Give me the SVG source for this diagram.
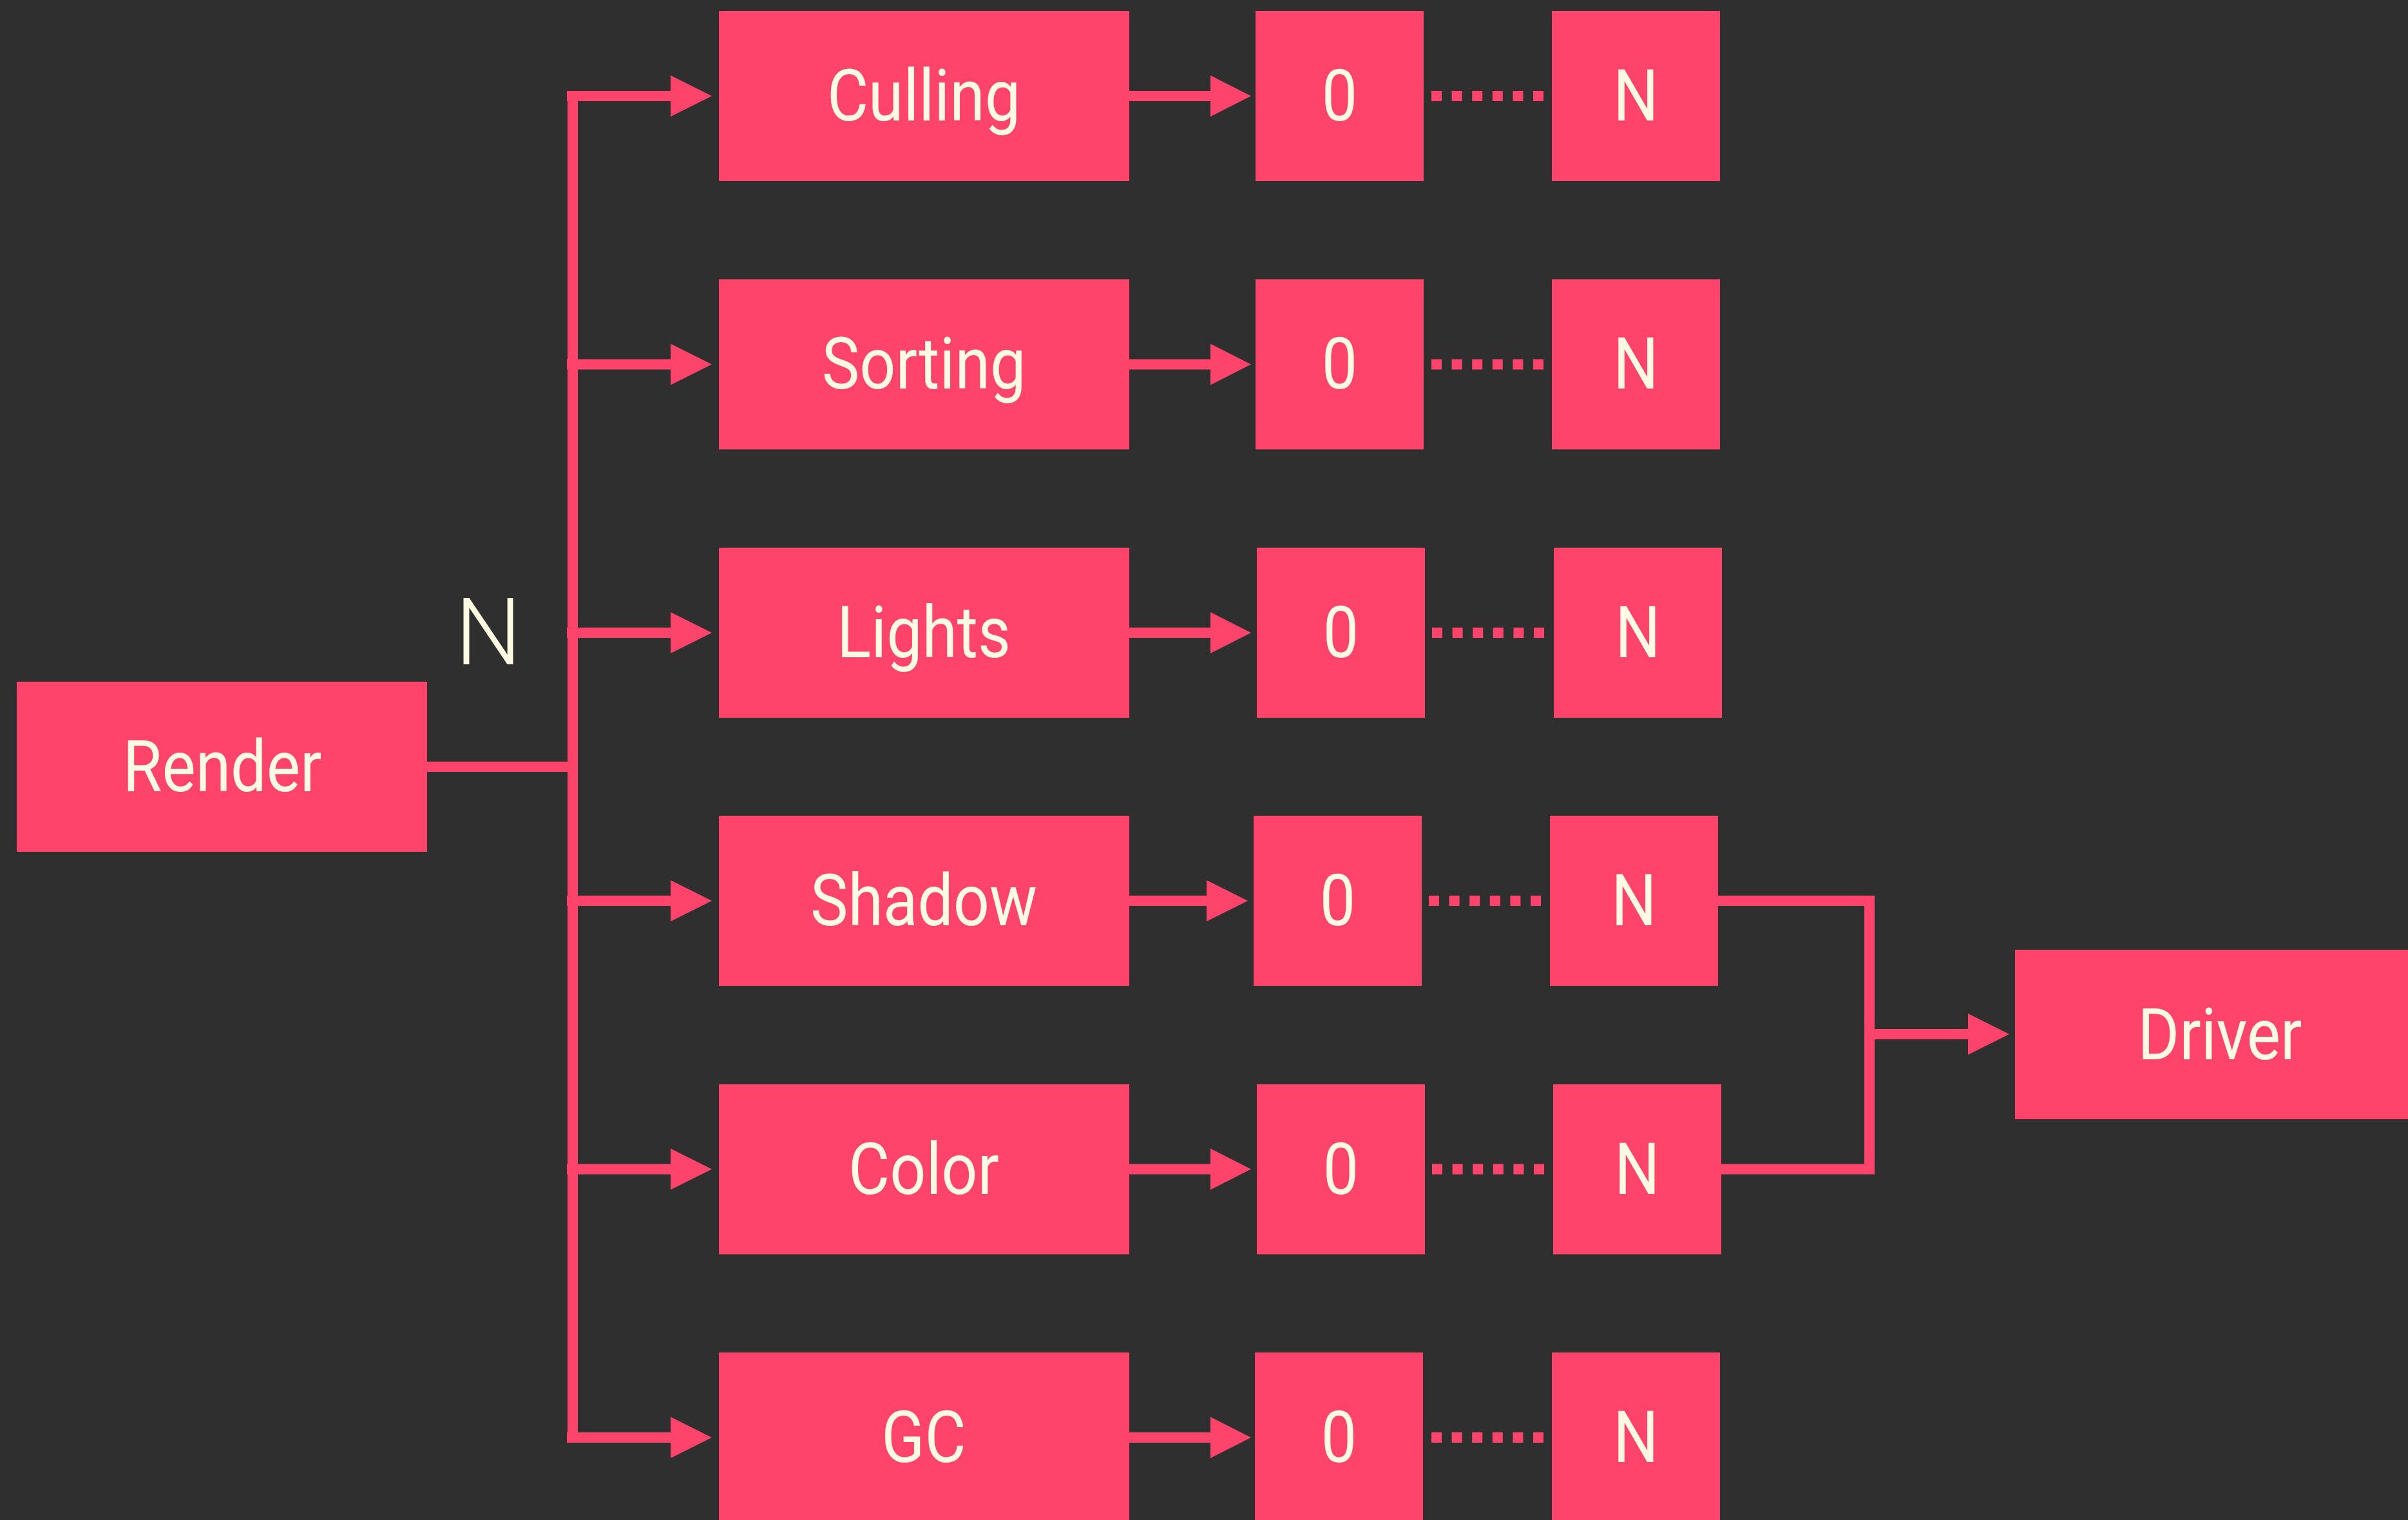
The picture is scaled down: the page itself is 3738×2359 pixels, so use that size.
<svg xmlns="http://www.w3.org/2000/svg" width="3738" height="2359" viewBox="0 0 3738 2359">
  <defs>
    <style>
      .box { fill: #FF446B; }
      .lbl { fill: #FFFAE1; font-family: Roboto, "Liberation Sans", sans-serif; font-size: 112px; font-weight: 400; text-anchor: middle; }
      .thin { fill: #FFFAE1; font-family: Roboto, "Liberation Sans", sans-serif; font-size: 145px; font-weight: 300; text-anchor: middle; }
      .ln { stroke: #FF446B; stroke-width: 16; fill: none; }
      .dot { stroke: #FF446B; stroke-width: 16; fill: none; stroke-dasharray: 16 15.6; }
      .head { fill: #FF446B; }
    </style>
  </defs>
  <rect width="3738" height="2359" fill="#2F2F2F"/>

  <g id="connectors">
    <line class="ln" x1="663" y1="1190" x2="889" y2="1190"/>
    <line class="ln" x1="889" y1="141" x2="889" y2="2239"/>
    <!-- branches -->
    <line class="ln" x1="880" y1="149" x2="1045" y2="149"/>
    <polygon class="head" points="1041,117 1105,149 1041,181"/>
    <line class="ln" x1="880" y1="565.4" x2="1045" y2="565.4"/>
    <polygon class="head" points="1041,533.4 1105,565.4 1041,597.4"/>
    <line class="ln" x1="880" y1="982" x2="1045" y2="982"/>
    <polygon class="head" points="1041,950 1105,982 1041,1014"/>
    <line class="ln" x1="880" y1="1398" x2="1045" y2="1398"/>
    <polygon class="head" points="1041,1366 1105,1398 1041,1430"/>
    <line class="ln" x1="880" y1="1814.6" x2="1045" y2="1814.6"/>
    <polygon class="head" points="1041,1782.6 1105,1814.6 1041,1846.6"/>
    <line class="ln" x1="880" y1="2231" x2="1045" y2="2231"/>
    <polygon class="head" points="1041,2199 1105,2231 1041,2263"/>
    <!-- middle arrows -->
    <line class="ln" x1="1752" y1="149" x2="1883" y2="149"/>
    <polygon class="head" points="1879,117 1942,149 1879,181"/>
    <line class="ln" x1="1752" y1="565.4" x2="1883" y2="565.4"/>
    <polygon class="head" points="1879,533.4 1942,565.4 1879,597.4"/>
    <line class="ln" x1="1752" y1="982" x2="1883" y2="982"/>
    <polygon class="head" points="1879,950 1942,982 1879,1014"/>
    <line class="ln" x1="1752" y1="1398" x2="1877" y2="1398"/>
    <polygon class="head" points="1873,1366 1937,1398 1873,1430"/>
    <line class="ln" x1="1752" y1="1814.6" x2="1883" y2="1814.6"/>
    <polygon class="head" points="1879,1782.6 1942,1814.6 1879,1846.6"/>
    <line class="ln" x1="1752" y1="2231" x2="1883" y2="2231"/>
    <polygon class="head" points="1879,2199 1942,2231 1879,2263"/>
    <!-- dotted -->
    <line class="dot" x1="2222" y1="149" x2="2396" y2="149"/>
    <line class="dot" x1="2222" y1="565.4" x2="2396" y2="565.4"/>
    <line class="dot" x1="2223" y1="982" x2="2399" y2="982"/>
    <line class="dot" x1="2218" y1="1398" x2="2394" y2="1398"/>
    <line class="dot" x1="2223" y1="1814.6" x2="2399" y2="1814.6"/>
    <line class="dot" x1="2222" y1="2231" x2="2396" y2="2231"/>
    <!-- merge to driver -->
    <polyline class="ln" points="2667,1398 2902,1398 2902,1814.6 2672,1814.6"/>
    <line class="ln" x1="2902" y1="1605" x2="3059" y2="1605"/>
    <polygon class="head" points="3055,1573 3119,1605 3055,1637"/>
  </g>

  <text class="thin" x="758" y="1031">N</text>

  <g id="render">
    <rect class="box" x="26" y="1058" width="637" height="264"/>
    <text class="lbl" transform="translate(345,1228) scale(0.88,1)">Render</text>
  </g>

  <g id="culling">
    <rect class="box" x="1116" y="17" width="637" height="264"/>
    <text class="lbl" transform="translate(1434,187) scale(0.88,1)">Culling</text>
  </g>
  <g id="culling-0"><rect class="box" x="1949" y="17" width="261" height="264"/><text class="lbl" transform="translate(2079.5,187) scale(0.88,1)">0</text></g>
  <g id="culling-n"><rect class="box" x="2409" y="17" width="261" height="264"/><text class="lbl" transform="translate(2539.5,187) scale(0.88,1)">N</text></g>

  <g id="sorting">
    <rect class="box" x="1116" y="433.4" width="637" height="264"/>
    <text class="lbl" transform="translate(1434,603.4) scale(0.88,1)">Sorting</text>
  </g>
  <g id="sorting-0"><rect class="box" x="1949" y="433.4" width="261" height="264"/><text class="lbl" transform="translate(2079.5,603.4) scale(0.88,1)">0</text></g>
  <g id="sorting-n"><rect class="box" x="2409" y="433.4" width="261" height="264"/><text class="lbl" transform="translate(2539.5,603.4) scale(0.88,1)">N</text></g>

  <g id="lights">
    <rect class="box" x="1116" y="850" width="637" height="264"/>
    <text class="lbl" transform="translate(1434,1020) scale(0.88,1)">Lights</text>
  </g>
  <g id="lights-0"><rect class="box" x="1951" y="850" width="261" height="264"/><text class="lbl" transform="translate(2081.5,1020) scale(0.88,1)">0</text></g>
  <g id="lights-n"><rect class="box" x="2412" y="850" width="261" height="264"/><text class="lbl" transform="translate(2542.5,1020) scale(0.88,1)">N</text></g>

  <g id="shadow">
    <rect class="box" x="1116" y="1266" width="637" height="264"/>
    <text class="lbl" transform="translate(1434,1436) scale(0.88,1)">Shadow</text>
  </g>
  <g id="shadow-0"><rect class="box" x="1946" y="1266" width="261" height="264"/><text class="lbl" transform="translate(2076.5,1436) scale(0.88,1)">0</text></g>
  <g id="shadow-n"><rect class="box" x="2406" y="1266" width="261" height="264"/><text class="lbl" transform="translate(2536.5,1436) scale(0.88,1)">N</text></g>

  <g id="color">
    <rect class="box" x="1116" y="1682.6" width="637" height="264"/>
    <text class="lbl" transform="translate(1434,1852.6) scale(0.88,1)">Color</text>
  </g>
  <g id="color-0"><rect class="box" x="1951" y="1682.6" width="261" height="264"/><text class="lbl" transform="translate(2081.5,1852.6) scale(0.88,1)">0</text></g>
  <g id="color-n"><rect class="box" x="2411" y="1682.6" width="261" height="264"/><text class="lbl" transform="translate(2541.5,1852.6) scale(0.88,1)">N</text></g>

  <g id="gc">
    <rect class="box" x="1116" y="2099" width="637" height="264"/>
    <text class="lbl" transform="translate(1434,2269) scale(0.88,1)">GC</text>
  </g>
  <g id="gc-0"><rect class="box" x="1948" y="2099" width="261" height="264"/><text class="lbl" transform="translate(2078.5,2269) scale(0.88,1)">0</text></g>
  <g id="gc-n"><rect class="box" x="2409" y="2099" width="261" height="264"/><text class="lbl" transform="translate(2539.5,2269) scale(0.88,1)">N</text></g>

  <g id="driver">
    <rect class="box" x="3128" y="1474" width="636" height="263"/>
    <text class="lbl" transform="translate(3446,1644) scale(0.88,1)">Driver</text>
  </g>
</svg>
